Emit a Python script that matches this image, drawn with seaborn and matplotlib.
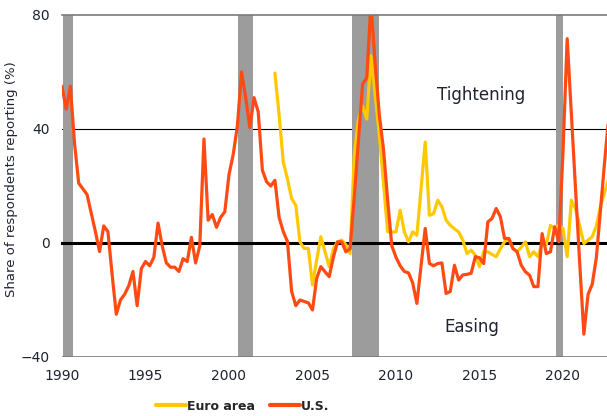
import numpy as np
import pandas as pd
import matplotlib
matplotlib.use('Agg')
import matplotlib.pyplot as plt
from matplotlib.lines import Line2D
import seaborn as sns

# Net share of banks tightening credit standards, quarterly
us_start = 1990.0
us_values = [
    55, 47, 55, 35,
    21, 19, 17, 10.5,
    4, -3, 6, 4,
    -11, -25, -20, -18,
    -15, -10, -22, -9,
    -6.5, -8, -5, 7,
    -1, -7, -8.5, -8.5,
    -10, -5.5, -6.5, 2,
    -7, -1, 36.5, 8,
    10, 5.5, 9, 11,
    24, 31, 41, 60,
    51, 40.5, 51, 46,
    25.5, 21.5, 20, 22,
    9, 4, 0.5, -17,
    -22, -20, -20.5, -21,
    -23.5, -12.4, -8.3, -10.1,
    -11.8, -5, 0.4, 0.4,
    -3.1, -2, 16, 36,
    55.8, 58, 84, 63,
    45, 33, 15, -1,
    -5, -8, -10, -10.5,
    -14, -21.2, -8, 5.1,
    -7.2, -8, -7.2, -7,
    -17.7, -17, -7.8, -13,
    -11.2, -11, -10.6, -4.8,
    -5.2, -7.2, 7.4, 8.6,
    12.1, 9.2, 1.6, 1.6,
    -1.9, -3.1, -7.8, -10.1,
    -11.3, -15.3, -15.3, 3.3,
    -3.7, -3.1, 5.7, 0.4,
    32, 71.7, 45, 19,
    -7, -32, -18, -14.5,
    -5, 12, 29, 45,
]

euro_start = 2002.75
euro_values = [
    59.6,
    45, 28.4, 22.5, 15.6,
    13.2, 0.4, -1.9, -1.9,
    -14.7, -6, 2.2, -3.1,
    -8.3, -2, 0.4, 1,
    -0.6, -3.7, 30.7, 43.5,
    48, 43.5, 65.7, 52,
    38, 21, 4, 3.9,
    3.9, 11.5, 3.9, 0.4,
    3.9, 2.7, 19, 35.4,
    9.7, 10.3, 15, 12.7,
    8, 6.2, 5, 3.9,
    1, -3.7, -2.5, -4.3,
    -8.3, -3, -3.1, -4,
    -4.8, -2, 0.4, 1.6,
    -1.9, -3.1, -1.5, 0.4,
    -4.8, -3.1, -4.8, -0.2,
    -0.6, 6.2, 5.1, 6.2,
    5.1, -4.8, 15, 12,
    6, -0.2, 1, 2.2,
    6, 13, 18, 23,
]

# recession shading (as placed on the chart's time axis)
recession_start = [1990.05, 2000.55, 2007.35, 2019.6]
recession_end = [1990.65, 2001.45, 2009.0, 2020.0]

year_ticks = [1990, 1995, 2000, 2005, 2010, 2015, 2020]
value_ticks = [-40, 0, 40, 80]

series_names = ['Euro area', 'U.S.']
colors = {'Euro area': '#FFC800', 'U.S.': '#FF4A14'}

df = pd.concat([
    pd.DataFrame({'date': euro_start + np.arange(len(euro_values)) / 4,
                  'value': euro_values, 'series': 'Euro area'}),
    pd.DataFrame({'date': us_start + np.arange(len(us_values)) / 4,
                  'value': us_values, 'series': 'U.S.'}),
], ignore_index=True)

sns.set_style('white')
plt.rcParams['font.family'] = ['DejaVu Sans']
text_color = '#1e2330'

fig = plt.figure(figsize=(6.07, 4.16), dpi=100)
ax = fig.add_axes([62 / 607, 1 - 357 / 416, 545 / 607, 342 / 416])

for s, e in zip(recession_start, recession_end):
    ax.axvspan(s, e, color='#9c9c9c', lw=0, zorder=1)

ax.axhline(40, color='black', lw=0.8, zorder=0.8)
ax.axhline(-40, color='#7a7a7a', lw=1.2, zorder=2)

sns.lineplot(data=df, x='date', y='value', hue='series', hue_order=series_names,
             palette=colors, linewidth=2.3, legend=False, ax=ax, zorder=3)

ax.set_xlim(1990, 1990 + 545 / 16.7)
ax.set_ylim(-40, 80)
ax.set_xticks(year_ticks)
ax.set_yticks(value_ticks)

# zero line doubles as the x axis, labels sit under the plot
ax.spines['bottom'].set_position(('data', 0))
ax.spines['bottom'].set_color('black')
ax.spines['bottom'].set_linewidth(2.2)
ax.spines['top'].set_color('#7a7a7a')
ax.spines['top'].set_linewidth(1.2)
ax.spines['left'].set_visible(False)
ax.spines['right'].set_visible(False)

ax.tick_params(axis='x', direction='out', length=3.5, width=1.6, color='black',
               pad=87, labelsize=10, labelcolor=text_color)
ax.tick_params(axis='y', length=0, pad=9, labelsize=10, labelcolor=text_color)
ax.set_xlabel('')
ax.set_ylabel('Share of respondents reporting (%)', fontsize=9.5, color=text_color)
ax.yaxis.set_label_coords(-0.08, 0.52)

ax.text(2015.1, 52, 'Tightening', ha='center', va='center', fontsize=12, color=text_color)
ax.text(2014.55, -29.5, 'Easing', ha='center', va='center', fontsize=12, color=text_color)

handles = [Line2D([], [], color=colors[n], lw=3) for n in series_names]
fig.legend(handles, series_names, loc='center', bbox_to_anchor=(0.40, 0.024), ncol=2,
           frameon=False, handlelength=2.4, handletextpad=0.1, columnspacing=1.2,
           prop={'weight': 'bold', 'size': 9})

fig.savefig('out.png', dpi=100)
